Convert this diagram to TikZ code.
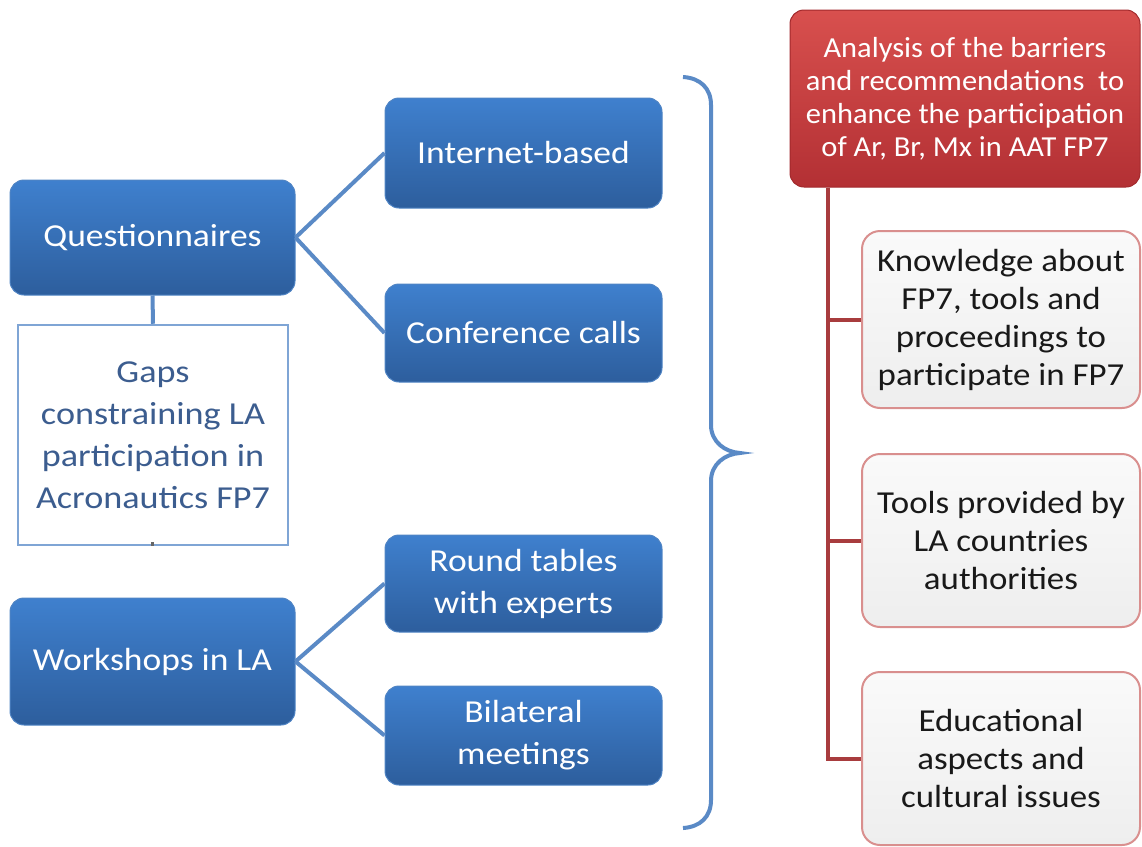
\documentclass[tikz,border=0pt]{standalone}
\usepackage{fontspec}
\setmainfont{Carlito}
\newfontfamily\bluefont[FakeStretch=1.11]{Carlito}
\newfontfamily\gapsfont[FakeStretch=1.13]{Carlito}
\newfontfamily\greyfont[FakeStretch=1.09]{Carlito}
\newfontfamily\redfont[FakeStretch=1.05]{Carlito}
\definecolor{bluetop}{HTML}{3F80CE}
\definecolor{bluebot}{HTML}{2D5E9D}
\definecolor{blueedge}{HTML}{4F84C4}
\definecolor{blueline}{HTML}{5A8AC6}
\definecolor{gapsedge}{HTML}{7FA5D5}
\definecolor{gapstext}{HTML}{3C5D8F}
\definecolor{redtop}{HTML}{D8504E}
\definecolor{redbot}{HTML}{B33034}
\definecolor{rededge}{HTML}{A2292C}
\definecolor{redline}{HTML}{A83C3E}
\definecolor{pinkedge}{HTML}{D98F8E}
\definecolor{greytop}{HTML}{FAFAFA}
\definecolor{greybot}{HTML}{EEEEEE}
\begin{document}
\begin{tikzpicture}[x=1pt,y=-1pt,
  bluebox/.style={rectangle, rounded corners=14pt, top color=bluetop, bottom color=bluebot,
    draw=blueedge, line width=1pt, text=white, align=center,
    font=\bluefont\fontsize{32}{42}\selectfont, inner sep=0pt},
  gapsbox/.style={rectangle, draw=gapsedge, line width=2.5pt, fill=white, text=gapstext,
    align=center, font=\gapsfont\fontsize{32}{42}\selectfont, inner sep=0pt},
  redbox/.style={rectangle, rounded corners=14pt, top color=redtop, bottom color=redbot,
    draw=rededge, line width=1pt, text=white, align=center,
    font=\redfont\fontsize{29}{33}\selectfont, inner sep=0pt},
  greybox/.style={rectangle, rounded corners=18pt, top color=greytop, bottom color=greybot,
    draw=pinkedge, line width=2pt, text=black!90, align=center,
    font=\greyfont\fontsize{32}{38}\selectfont, inner sep=0pt},
  bl/.style={draw=blueline, line width=4pt},
  rl/.style={draw=redline, line width=4pt},
]
\useasboundingbox (0,0) rectangle (1142,846);

% left column
\node[bluebox, minimum width=285pt, minimum height=115pt] (q) at (152.5,237.5) {Questionnaires};
\node[gapsbox, minimum width=270pt, minimum height=220pt] (gaps) at (153,435)
  {Gaps\\constraining LA\\participation in\\Acronautics FP7};
\node[bluebox, minimum width=285pt, minimum height=127pt] (w) at (152.5,661.5) {Workshops in LA};

% middle column
\node[bluebox, minimum width=277pt, minimum height=110pt] (ib) at (523.5,153) {Internet-based};
\node[bluebox, minimum width=277pt, minimum height=98pt] (cc) at (523.5,333) {Conference calls};
\node[bluebox, minimum width=277pt, minimum height=97pt] (rt) at (523.5,583.5) {Round tables\\with experts};
\node[bluebox, minimum width=277pt, minimum height=99pt] (bm) at (523.5,735.5) {Bilateral\\meetings};

% connectors
\draw[bl] (q.south) -- (gaps.north);
\draw[bl] (q.east) -- (ib.west);
\draw[bl] (q.east) -- (cc.west);
\draw[bl] (w.east) -- (rt.west);
\draw[bl] (w.east) -- (bm.west);
\fill[black!60] (151,542) rectangle (154,546);

% brace
\draw[blueline, line width=4pt] (683,77) .. controls (700,78) and (711,88) .. (711,105)
  -- (711,425) .. controls (711,442) and (725,452) .. (740,453)
  .. controls (725,454) and (711,464) .. (711,481)
  -- (711,800) .. controls (711,817) and (700,827) .. (683,828);

% right column
\node[redbox, minimum width=350pt, minimum height=177pt] (red) at (965,98.5)
  {Analysis of the barriers\\and recommendations\ \ to\\enhance the participation\\of Ar, Br, Mx in AAT FP7};
\node[greybox, minimum width=278pt, minimum height=177pt] (k1) at (1001,319.5)
  {Knowledge about\\FP7, tools and\\proceedings to\\participate in FP7};
\node[greybox, minimum width=278pt, minimum height=173pt] (k2) at (1001,540.5)
  {Tools provided by\\LA countries\\authorities};
\node[greybox, minimum width=278pt, minimum height=173pt] (k3) at (1001,758.5)
  {Educational\\aspects and\\cultural issues};

\draw[rl] ([xshift=38pt]red.south west) |- (k1.west);
\draw[rl] ([xshift=38pt]red.south west) |- (k2.west);
\draw[rl] ([xshift=38pt]red.south west) |- (k3.west);
\end{tikzpicture}
\end{document}
